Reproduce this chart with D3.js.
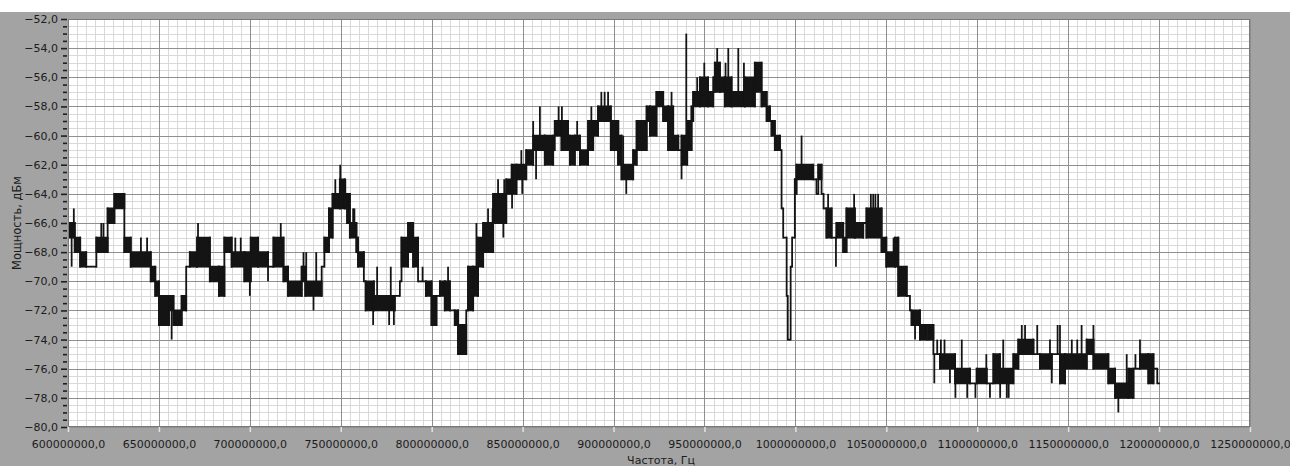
<!DOCTYPE html>
<html>
<head>
<meta charset="utf-8">
<script src="https://cdn.jsdelivr.net/npm/d3@7"></script>
<style>
  html, body { margin: 0; padding: 0; background: #fff; }
  svg { display: block; }
  text { font-family: "DejaVu Sans", sans-serif; }
</style>
</head>
<body>
<svg id="chart" width="1290" height="466"></svg>
<script>
// Frequency axis (MHz) and power axis (dBm)
const freqDomain = [600, 1250];
const powerDomain = [-80, -52];
const freqTicks = [600, 650, 700, 750, 800, 850, 900, 950, 1000, 1050, 1100, 1150, 1200, 1250];
const powerTicks = [-80, -78, -76, -74, -72, -70, -68, -66, -64, -62, -60, -58, -56, -54, -52];
const xTitle = "Частота, Гц";
const yTitle = "Мощность, дБм";

// Spectrum trace: [start MHz, min dBm, max dBm] — each span holds until the next one starts
const bands = [
  [600.8, -67, -66], [603.7, -68, -67], [606.7, -69, -68], [610, -69, -69], [615.6, -68, -67],
  [621.8, -66, -65], [625.5, -65, -64], [631, -68, -67], [634.5, -69, -68], [645.5, -70, -69],
  [648, -71, -70], [650, -73, -71], [655.5, -72, -71], [658, -73, -72], [662.5, -72, -71],
  [665, -69, -69], [667, -69, -68], [671, -69, -67], [678, -70, -69], [683, -71, -69],
  [686, -68, -67], [690, -69, -68], [697, -70, -68], [700.5, -69, -67], [704.5, -69, -68],
  [710, -69, -69], [713, -69, -67], [718.5, -70, -69], [721, -71, -70], [728.5, -70, -69],
  [730.5, -71, -70], [739.5, -69, -69], [741, -68, -67], [743.5, -67, -65], [745.5, -65, -64],
  [749.5, -65, -63], [752.2, -65, -64], [753.5, -66, -64], [755, -67, -66], [758.6, -68, -67],
  [759.5, -69, -68], [762.7, -70, -70], [763.7, -72, -70], [768.2, -72, -71], [779.7, -71, -71],
  [782.5, -70, -70], [783.4, -69, -67], [787, -68, -66], [789.8, -69, -67], [792.5, -70, -70],
  [796.8, -71, -70], [799.9, -73, -71], [802.6, -71, -71], [804.5, -71, -70], [807.2, -72, -70],
  [810, -72, -72], [812.7, -73, -72], [814.5, -75, -73], [819, -72, -72], [820, -72, -69],
  [822.8, -71, -69], [825.5, -69, -67], [828.3, -68, -66], [833.8, -66, -64], [841, -64, -63],
  [844, -64, -62], [846.6, -63, -62], [852, -62, -61], [855.8, -61, -60], [862.2, -62, -60],
  [866.8, -61, -61], [867.7, -60, -59], [871.4, -61, -59], [875, -61, -61], [876, -62, -60],
  [878.7, -61, -60], [881.5, -62, -61], [886, -61, -59], [888.8, -60, -59], [891.5, -59, -58],
  [898.5, -61, -59], [902.6, -62, -60], [904.4, -63, -62], [910.8, -62, -61], [912.7, -61, -59],
  [918.2, -59, -58], [920, -60, -58], [923.6, -58, -57], [927.3, -59, -58], [930, -61, -58],
  [932.8, -61, -60], [935.6, -61, -61], [937.4, -62, -60], [940.5, -61, -59], [942.9, -59, -58],
  [943.8, -58, -57], [947.5, -58, -56], [952, -58, -57], [954.8, -56, -56], [955.7, -57, -55],
  [958.5, -57, -56], [961.2, -58, -56], [964.9, -58, -57], [972.2, -58, -56], [977.7, -57, -55],
  [981.4, -58, -57], [984.2, -59, -58], [986, -59, -59], [986.9, -60, -59], [988.7, -61, -60],
  [991.5, -61, -61], [992.4, -65, -65], [993.3, -67, -67], [995.2, -71, -71], [995.8, -74, -74],
  [997.4, -69, -69], [998.2, -67, -67], [999.7, -64, -63], [1000.6, -63, -62], [1009.8, -63, -63],
  [1011.6, -64, -64], [1012.6, -63, -62], [1014.4, -64, -64], [1015.5, -65, -65], [1017.1, -67, -65],
  [1019.9, -67, -67], [1022.6, -67, -66], [1026.3, -68, -67], [1028.1, -67, -65], [1032.7, -67, -66],
  [1037.3, -66, -66], [1039.1, -67, -65], [1047.4, -68, -67], [1050, -69, -68], [1054.8, -69, -67],
  [1056.6, -71, -69], [1061.2, -71, -71], [1063, -72, -72], [1063.9, -73, -72], [1068.5, -74, -73],
  [1072.2, -73, -73], [1073.1, -74, -73], [1075.9, -75, -75], [1079.5, -76, -75], [1087.8, -77, -76],
  [1096, -77, -77], [1099.7, -77, -76], [1105.2, -77, -77], [1108.9, -77, -75], [1112.5, -77, -76],
  [1119.9, -76, -75], [1122.6, -75, -74], [1130.9, -75, -75], [1134.5, -76, -75], [1140.9, -75, -75],
  [1145.5, -77, -75], [1148.3, -76, -75], [1160.2, -75, -74], [1163.9, -76, -75], [1172.1, -77, -76],
  [1175.8, -78, -77], [1183.1, -78, -76], [1185.9, -76, -76], [1189.5, -76, -75], [1194.1, -77, -75],
  [1196.9, -76, -76], [1199, -77, -77]
];
const traceEnd = 1200.5;

// Narrow single-sample excursions: [MHz, dBm]
const spikes = [
  [602, -69], [603.2, -65], [618.3, -66], [619.5, -66], [640.1, -67], [643.5, -67], [657, -74],
  [671.5, -66], [692, -67], [695, -67], [700, -71], [710, -70], [717, -66], [729.5, -68],
  [731, -68], [735, -72], [736.5, -68], [747, -63], [749.7, -62], [752.5, -63], [756.8, -65],
  [757.5, -65], [767.8, -73], [770, -69], [776.6, -73], [777.5, -69], [779.2, -73], [795, -69],
  [809, -69], [824.6, -66], [831, -65], [833.5, -65], [836.5, -63], [839.4, -67], [839.9, -63],
  [844.2, -65], [849.3, -61], [849.8, -64], [855.8, -59], [857.4, -63], [859.5, -58], [869.8, -58],
  [871.6, -58], [880, -59], [887.8, -58], [893.3, -57], [895.1, -57], [897, -57], [902.5, -62],
  [905.3, -60], [907, -64], [914.5, -59], [930, -60], [931.9, -57], [937.4, -63], [940, -53],
  [946, -56], [949.9, -55], [957, -54], [961.6, -55], [963.1, -54], [968.6, -54], [971.7, -55],
  [1003.4, -60], [1018, -64], [1022.3, -69], [1032.3, -64], [1041.5, -64], [1042.8, -64],
  [1044, -64], [1045.5, -64], [1054, -67], [1065.8, -74], [1076.4, -77], [1078, -74], [1080, -74],
  [1082, -74], [1085, -77], [1088, -78], [1091.5, -74], [1094.5, -78], [1099, -78], [1105, -75],
  [1107, -78], [1112.6, -78], [1114.3, -74], [1116.3, -78], [1117.3, -78], [1124.5, -73],
  [1126.3, -73], [1133, -73], [1140, -74], [1141, -77], [1144.2, -73], [1145.5, -73], [1152, -74],
  [1155, -74], [1157.4, -73], [1163.9, -73], [1177.6, -79], [1182.2, -75], [1187, -75], [1189.5, -74]
];

const W = 1290, H = 466;
const plot = { left: 68, right: 1250, top: 19, bottom: 427 };
const MHz = 1e6;

const svg = d3.select("#chart");

const x = d3.scaleLinear().domain(freqDomain.map(f => f * MHz)).range([plot.left, plot.right]);
const y = d3.scaleLinear().domain(powerDomain).range([plot.bottom, plot.top]);

// Panel background
svg.append("rect").attr("x", 0).attr("y", 0).attr("width", W).attr("height", H).attr("fill", "#ffffff");
svg.append("rect").attr("x", 0).attr("y", 12).attr("width", W).attr("height", H - 12).attr("fill", "#a3a3a3");

// Plot area
svg.append("rect")
  .attr("x", plot.left).attr("y", plot.top)
  .attr("width", plot.right - plot.left).attr("height", plot.bottom - plot.top)
  .attr("fill", "#ffffff");

svg.append("defs").append("clipPath").attr("id", "plotClip")
  .append("rect")
  .attr("x", plot.left).attr("y", plot.top)
  .attr("width", plot.right - plot.left).attr("height", plot.bottom - plot.top);

// Grid: minor every 5 MHz / 0.5 dB, major every 50 MHz / 2 dB
const minorF = d3.range(freqDomain[0], freqDomain[1] + 0.01, 5).filter(f => f % 50 !== 0);
const minorP = d3.range(powerDomain[0], powerDomain[1] + 0.01, 0.5).filter(p => p % 2 !== 0);
const grid = svg.append("g").attr("shape-rendering", "crispEdges");

grid.selectAll("line.vminor").data(minorF).join("line")
  .attr("x1", d => Math.round(x(d * MHz)) + 0.5).attr("x2", d => Math.round(x(d * MHz)) + 0.5)
  .attr("y1", plot.top).attr("y2", plot.bottom)
  .attr("stroke", "#d9d9d9").attr("stroke-width", 1);
grid.selectAll("line.hminor").data(minorP).join("line")
  .attr("y1", d => Math.round(y(d)) + 0.5).attr("y2", d => Math.round(y(d)) + 0.5)
  .attr("x1", plot.left).attr("x2", plot.right)
  .attr("stroke", "#d9d9d9").attr("stroke-width", 1);
grid.selectAll("line.vmajor").data(freqTicks).join("line")
  .attr("x1", d => Math.round(x(d * MHz)) + 0.5).attr("x2", d => Math.round(x(d * MHz)) + 0.5)
  .attr("y1", plot.top).attr("y2", plot.bottom)
  .attr("stroke", "#8f8f8f").attr("stroke-width", 1);
grid.selectAll("line.hmajor").data(powerTicks).join("line")
  .attr("y1", d => Math.round(y(d)) + 0.5).attr("y2", d => Math.round(y(d)) + 0.5)
  .attr("x1", plot.left).attr("x2", plot.right)
  .attr("stroke", "#8f8f8f").attr("stroke-width", 1);

// Trace
const segs = bands.map((b, i) => ({
  f0: b[0],
  f1: i < bands.length - 1 ? bands[i + 1][0] : traceEnd,
  lo: b[1],
  hi: b[2]
}));

const trace = svg.append("g").attr("clip-path", "url(#plotClip)");
const ink = "#141414";
const sw = 1.8;

trace.selectAll("path.band").data(segs).join("path")
  .attr("d", d => `M${x(d.f0 * MHz)},${y(d.hi)}H${x(d.f1 * MHz)}V${y(d.lo)}H${x(d.f0 * MHz)}Z`)
  .attr("fill", ink).attr("stroke", ink).attr("stroke-width", sw)
  .attr("stroke-linejoin", "miter");

const joins = segs.slice(0, -1).map((s, i) => {
  const n = segs[i + 1];
  return { f: s.f1, top: Math.max(s.hi, n.hi), bottom: Math.min(s.lo, n.lo) };
});
trace.selectAll("line.join").data(joins).join("line")
  .attr("x1", d => x(d.f * MHz)).attr("x2", d => x(d.f * MHz))
  .attr("y1", d => y(d.top)).attr("y2", d => y(d.bottom))
  .attr("stroke", ink).attr("stroke-width", sw).attr("stroke-linecap", "square");

const spikeLines = spikes.map(([f, v]) => {
  const s = segs.find(d => f >= d.f0 && f < d.f1) || segs[segs.length - 1];
  const from = v > s.hi ? s.hi : (v < s.lo ? s.lo : v);
  return { f, v, from };
});
trace.selectAll("line.spike").data(spikeLines).join("line")
  .attr("x1", d => x(d.f * MHz)).attr("x2", d => x(d.f * MHz))
  .attr("y1", d => y(d.from)).attr("y2", d => y(d.v))
  .attr("stroke", ink).attr("stroke-width", sw).attr("stroke-linecap", "butt");

// Plot frame
svg.append("rect")
  .attr("x", plot.left + 0.5).attr("y", plot.top + 0.5)
  .attr("width", plot.right - plot.left - 1).attr("height", plot.bottom - plot.top - 1)
  .attr("fill", "none").attr("stroke", "#7a7a7a").attr("stroke-width", 1)
  .attr("shape-rendering", "crispEdges");

// Axes
const commaFmt = d => d3.format(".1f")(d).replace(".", ",");

const yAxisMinor = d3.axisLeft(y)
  .tickValues(minorP)
  .tickSize(4).tickFormat("");
svg.append("g").attr("transform", `translate(${plot.left - 1},0)`).call(yAxisMinor)
  .call(g => g.select(".domain").remove())
  .call(g => g.selectAll(".tick line").attr("stroke", "#1e1e1e").attr("stroke-width", 1.6));

const yAxis = d3.axisLeft(y)
  .tickValues(powerTicks)
  .tickSize(6).tickPadding(3)
  .tickFormat(commaFmt);
svg.append("g").attr("transform", `translate(${plot.left - 1},0)`).call(yAxis)
  .call(g => g.select(".domain").remove())
  .call(g => g.selectAll(".tick line").attr("stroke", "#1e1e1e").attr("stroke-width", 1.6))
  .call(g => g.selectAll(".tick text")
    .attr("fill", "#1c1c1c").attr("font-size", "11px")
    .attr("font-family", "'DejaVu Sans', sans-serif"));

const xAxis = d3.axisBottom(x)
  .tickValues(freqTicks.map(f => f * MHz))
  .tickSize(5).tickPadding(8)
  .tickFormat(commaFmt);
svg.append("g").attr("transform", `translate(0,${plot.bottom})`).call(xAxis)
  .call(g => g.select(".domain").remove())
  .call(g => g.selectAll(".tick line").attr("stroke", "#e4e4e4").attr("stroke-width", 1.5))
  .call(g => g.selectAll(".tick text")
    .attr("fill", "#1c1c1c").attr("font-size", "11px")
    .attr("font-family", "'DejaVu Sans', sans-serif"));

// Axis titles
svg.append("text")
  .attr("x", (plot.left + plot.right) / 2 + 2).attr("y", 464)
  .attr("text-anchor", "middle").attr("font-size", "11px").attr("fill", "#1c1c1c")
  .text(xTitle);

svg.append("text")
  .attr("transform", `translate(21,223) rotate(-90)`)
  .attr("text-anchor", "middle").attr("font-size", "11.5px").attr("fill", "#1c1c1c")
  .text(yTitle);
</script>
</body>
</html>
